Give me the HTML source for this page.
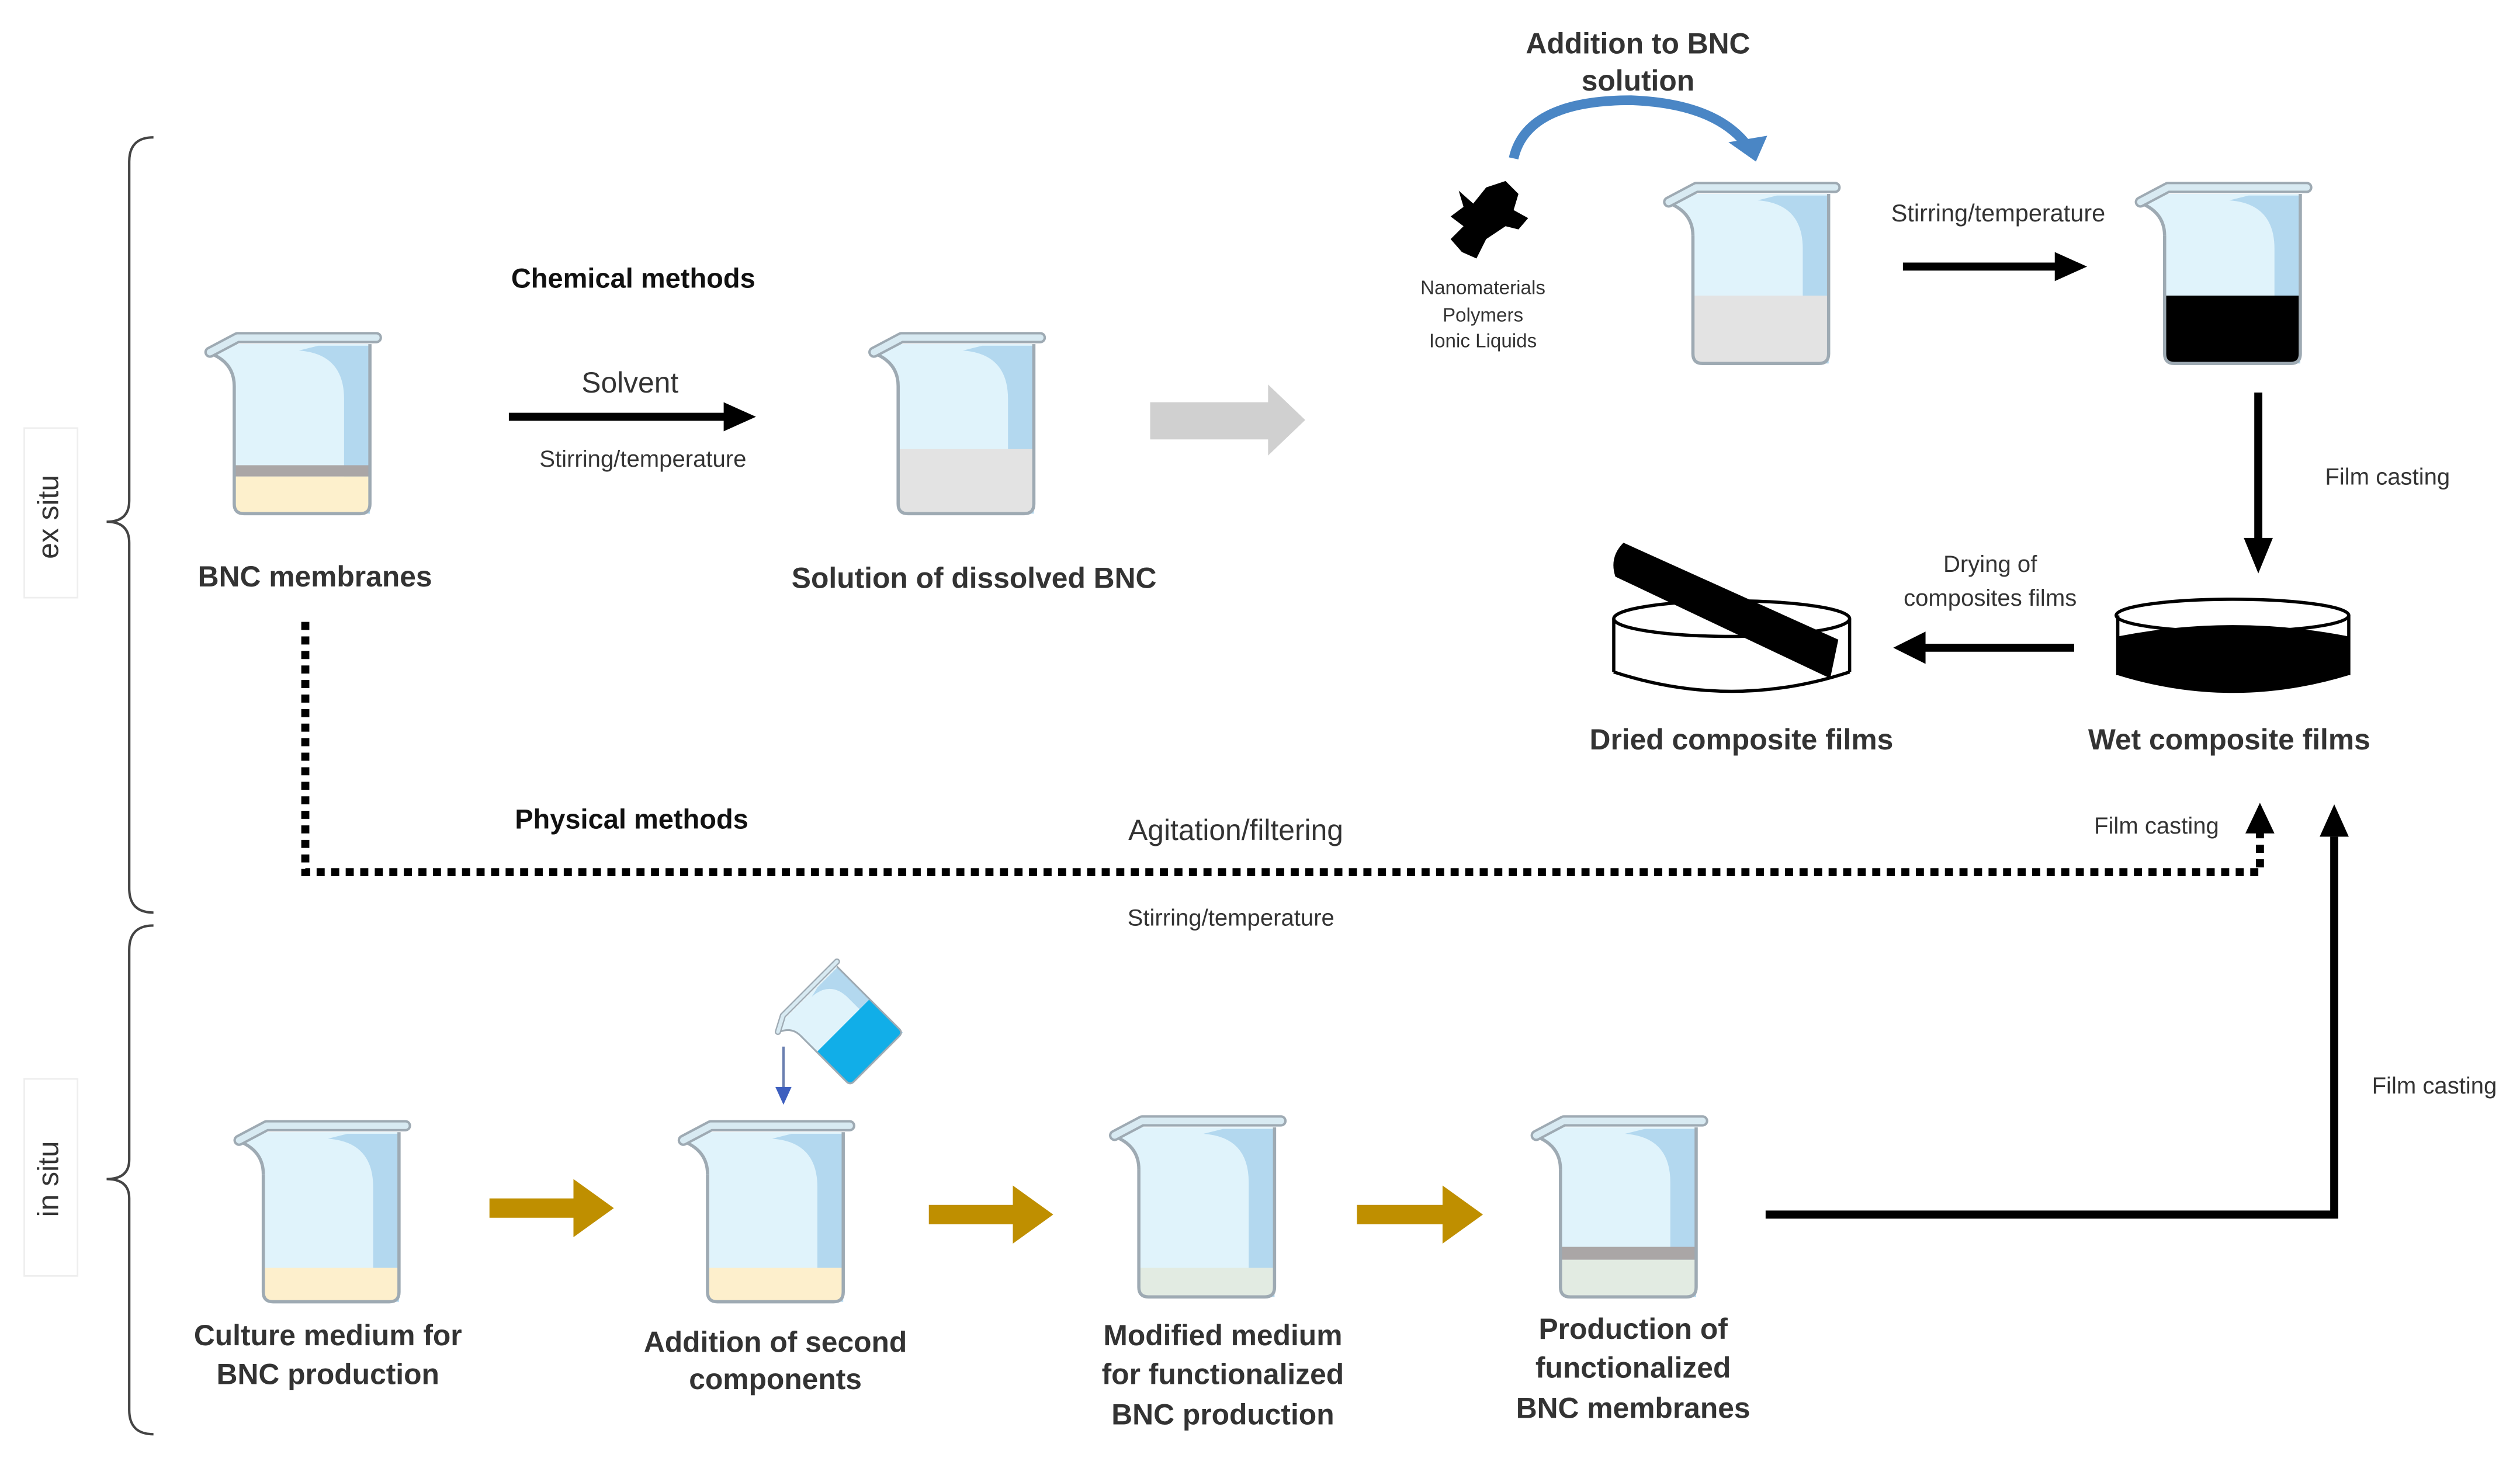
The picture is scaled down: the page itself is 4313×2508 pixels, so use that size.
<!DOCTYPE html>
<html><head><meta charset="utf-8"><style>html,body{margin:0;padding:0;background:#fff}svg{display:block}</style></head>
<body>
<svg width="4313" height="2508" viewBox="0 0 1560 907" xmlns="http://www.w3.org/2000/svg" font-family="Liberation Sans, sans-serif" fill="#333">
<defs>
<clipPath id="bc"><path d="M4,14 Q18,20 18,34 L18,107 Q18,113 24,113 L96,113 Q102,113 102,107 L102,8 L20,8 Z"/></clipPath>
<g id="bk">
<path d="M4,14 Q18,20 18,34 L18,107 Q18,113 24,113 L96,113 Q102,113 102,107 L102,8 L20,8 Z" fill="#e0f3fb"/>
<path d="M70,9 L102,9 L102,113 L86,113 L86,42 Q86,14 58,12 Z" fill="#b3d8ef"/>
</g>
<g id="bko">
<path d="M18,34 L18,107 Q18,113 24,113 L96,113 Q102,113 102,107 L102,8" fill="none" stroke="#9eaab3" stroke-width="2"/>
<path d="M4,14 Q18,20 18,34" fill="none" stroke="#9eaab3" stroke-width="2"/>
<polyline points="3,13 20,4 106,4" fill="none" stroke="#9eaab3" stroke-width="7" stroke-linecap="round" stroke-linejoin="round"/>
<polyline points="3,13 20,4 106,4" fill="none" stroke="#d8eaf2" stroke-width="4" stroke-linecap="round" stroke-linejoin="round"/>
</g>
<marker id="ah" markerWidth="4" markerHeight="4" refX="2" refY="2" orient="auto" markerUnits="strokeWidth"><path d="M0,0 L4,2 L0,4 Z" fill="#000"/></marker>
</defs>

<!-- braces -->
<path d="M95,85 Q80,85 80,100 L80,310 Q80,323 66,323 Q80,323 80,336 L80,550 Q80,565 95,565" fill="none" stroke="#444" stroke-width="1.5"/>
<path d="M95,573 Q80,573 80,588 L80,718 Q80,730 66,730 Q80,730 80,742 L80,873 Q80,888 95,888" fill="none" stroke="#444" stroke-width="1.5"/>
<rect x="15" y="265" width="33" height="105" fill="#fff" stroke="#eee"/>
<rect x="15" y="668" width="33" height="122" fill="#fff" stroke="#eee"/>
<text x="36" y="320" font-size="18" text-anchor="middle" transform="rotate(-90 36 320)" dy="0">ex situ</text>
<text x="36" y="730" font-size="18" text-anchor="middle" transform="rotate(-90 36 730)">in situ</text>

<!-- beaker 1 -->
<g transform="translate(127,205)"><use href="#bk"/><g clip-path="url(#bc)"><rect x="0" y="83" width="110" height="7" fill="#aaa6a6"/><rect x="0" y="90" width="110" height="25" fill="#fdf0cc"/></g><use href="#bko"/></g>
<text x="195" y="363" font-size="18" font-weight="bold" text-anchor="middle">BNC membranes</text>

<text x="392" y="178" font-size="17" font-weight="bold" text-anchor="middle" fill="#111">Chemical methods</text>
<text x="390" y="243" font-size="18" text-anchor="middle">Solvent</text>
<line x1="315" y1="258" x2="452" y2="258" stroke="#000" stroke-width="5"/>
<path d="M448,249 L468,258 L448,267 Z" fill="#000"/>
<text x="398" y="289" font-size="14.5" text-anchor="middle">Stirring/temperature</text>

<!-- beaker 2 -->
<g transform="translate(538,205)"><use href="#bk"/><g clip-path="url(#bc)"><rect x="0" y="73" width="110" height="42" fill="#e3e3e3"/></g><use href="#bko"/></g>
<text x="603" y="364" font-size="18" font-weight="bold" text-anchor="middle">Solution of dissolved BNC</text>

<path d="M712,249 L785,249 L785,238 L808,260 L785,282 L785,272 L712,272 Z" fill="#d0d0d0"/>

<text x="1014" y="33" font-size="18" font-weight="bold" text-anchor="middle">Addition to BNC</text>
<text x="1014" y="56" font-size="18" font-weight="bold" text-anchor="middle">solution</text>
<path d="M937,98 Q945,62 1010,62 Q1060,64 1080,88" fill="none" stroke="#4a86c5" stroke-width="6"/>
<path d="M1070,88 L1094,84 L1087,100 Z" fill="#4a86c5"/>
<path d="M903,118 L912,126 L920,116 L932,112 L940,120 L937,130 L946,135 L940,142 L932,140 L920,148 L914,160 L905,156 L898,148 L906,140 L898,134 L906,128 Z" fill="#000"/>
<text x="918" y="182" font-size="12" text-anchor="middle">Nanomaterials</text>
<text x="918" y="199" font-size="12" text-anchor="middle">Polymers</text>
<text x="918" y="215" font-size="12" text-anchor="middle">Ionic Liquids</text>

<!-- beaker 3 -->
<g transform="translate(1030,112)"><use href="#bk"/><g clip-path="url(#bc)"><rect x="0" y="71" width="110" height="44" fill="#e3e3e3"/></g><use href="#bko"/></g>
<text x="1237" y="137" font-size="15" text-anchor="middle">Stirring/temperature</text>
<line x1="1178" y1="165" x2="1275" y2="165" stroke="#000" stroke-width="5"/>
<path d="M1272,156 L1292,165 L1272,174 Z" fill="#000"/>
<!-- beaker 4 -->
<g transform="translate(1322,112)"><use href="#bk"/><g clip-path="url(#bc)"><rect x="0" y="71" width="110" height="44" fill="#000"/></g><use href="#bko"/></g>

<line x1="1398" y1="243" x2="1398" y2="335" stroke="#000" stroke-width="5"/>
<path d="M1389,333 L1398,355 L1407,333 Z" fill="#000"/>
<text x="1478" y="300" font-size="14.5" text-anchor="middle">Film casting</text>

<!-- wet dish -->
<path d="M1311,394 L1311,418 Q1382,440 1454,418 L1454,394 Q1382,380 1311,394 Z" fill="#000"/>
<ellipse cx="1382" cy="381" rx="72" ry="10" fill="none" stroke="#000" stroke-width="2"/>
<line x1="1311" y1="381" x2="1311" y2="418" stroke="#000" stroke-width="2"/>
<line x1="1454" y1="381" x2="1454" y2="418" stroke="#000" stroke-width="2"/>
<text x="1380" y="464" font-size="18" font-weight="bold" text-anchor="middle">Wet  composite films</text>

<line x1="1284" y1="401" x2="1190" y2="401" stroke="#000" stroke-width="5"/>
<path d="M1192,391 L1172,401 L1192,411 Z" fill="#000"/>
<text x="1232" y="354" font-size="14.5" text-anchor="middle">Drying of</text>
<text x="1232" y="375" font-size="14.5" text-anchor="middle">composites films</text>

<!-- dried dish -->
<ellipse cx="1072" cy="383" rx="73" ry="11" fill="none" stroke="#000" stroke-width="2"/>
<line x1="999" y1="383" x2="999" y2="416" stroke="#000" stroke-width="2"/>
<line x1="1145" y1="383" x2="1145" y2="416" stroke="#000" stroke-width="2"/>
<path d="M999,416 Q1072,440 1145,416" fill="none" stroke="#000" stroke-width="2"/>
<path d="M1005,336 L1138,396 L1133,420 L1000,357 Q996,345 1005,336 Z" fill="#000"/>
<text x="1078" y="464" font-size="18" font-weight="bold" text-anchor="middle">Dried composite films</text>

<!-- physical -->
<text x="391" y="513" font-size="17" font-weight="bold" text-anchor="middle" fill="#111">Physical methods</text>
<text x="765" y="520" font-size="18" text-anchor="middle">Agitation/filtering</text>
<text x="762" y="573" font-size="14.5" text-anchor="middle">Stirring/temperature</text>
<path d="M189,385 L189,540 L1399,540 L1399,515" fill="none" stroke="#000" stroke-width="5" stroke-dasharray="5,4"/>
<path d="M1390,516 L1399,497 L1408,516 Z" fill="#000"/>
<text x="1335" y="516" font-size="14.5" text-anchor="middle">Film casting</text>

<!-- in situ route -->
<path d="M1093,752 L1445,752 L1445,518" fill="none" stroke="#000" stroke-width="5"/>
<path d="M1436,518 L1445,498 L1454,518 Z" fill="#000"/>
<text x="1507" y="677" font-size="14.5" text-anchor="middle">Film casting</text>

<!-- in situ beakers -->
<g transform="translate(145,693)"><use href="#bk"/><g clip-path="url(#bc)"><rect x="0" y="92" width="110" height="23" fill="#fdefcc"/></g><use href="#bko"/></g>
<g transform="translate(420,693)"><use href="#bk"/><g clip-path="url(#bc)"><rect x="0" y="92" width="110" height="23" fill="#fdefcc"/></g><use href="#bko"/></g>
<g transform="translate(687,690)"><use href="#bk"/><g clip-path="url(#bc)"><rect x="0" y="95" width="110" height="20" fill="#e2ebe2"/></g><use href="#bko"/></g>
<g transform="translate(948,690)"><use href="#bk"/><g clip-path="url(#bc)"><rect x="0" y="82" width="110" height="8" fill="#aaa6a6"/><rect x="0" y="90" width="110" height="25" fill="#e2ebe2"/></g><use href="#bko"/></g>

<!-- pouring beaker -->
<g transform="translate(522,635) rotate(-45) scale(0.55) translate(-60,-60)">
<use href="#bk"/><g clip-path="url(#bc)"><rect x="0" y="60" width="110" height="55" fill="#11aee8"/></g><use href="#bko"/>
</g>
<line x1="485" y1="648" x2="485" y2="675" stroke="#6a7fb0" stroke-width="1.5"/>
<path d="M480,673 L485,684 L490,673 Z" fill="#3e5fbf"/>

<!-- gold arrows -->
<g fill="#bf8f00">
<path d="M303,742 L355,742 L355,730 L380,748 L355,766 L355,754 L303,754 Z"/>
<path d="M575,746 L627,746 L627,734 L652,752 L627,770 L627,758 L575,758 Z"/>
<path d="M840,746 L893,746 L893,734 L918,752 L893,770 L893,758 L840,758 Z"/>
</g>

<g font-size="18" font-weight="bold" text-anchor="middle">
<text x="203" y="833">Culture medium for</text>
<text x="203" y="857">BNC production</text>
<text x="480" y="837">Addition  of second</text>
<text x="480" y="860">components</text>
<text x="757" y="833">Modified medium</text>
<text x="757" y="857">for functionalized</text>
<text x="757" y="882">BNC production</text>
<text x="1011" y="829">Production of</text>
<text x="1011" y="853">functionalized</text>
<text x="1011" y="878">BNC membranes</text>
</g>
</svg>
</body></html>
